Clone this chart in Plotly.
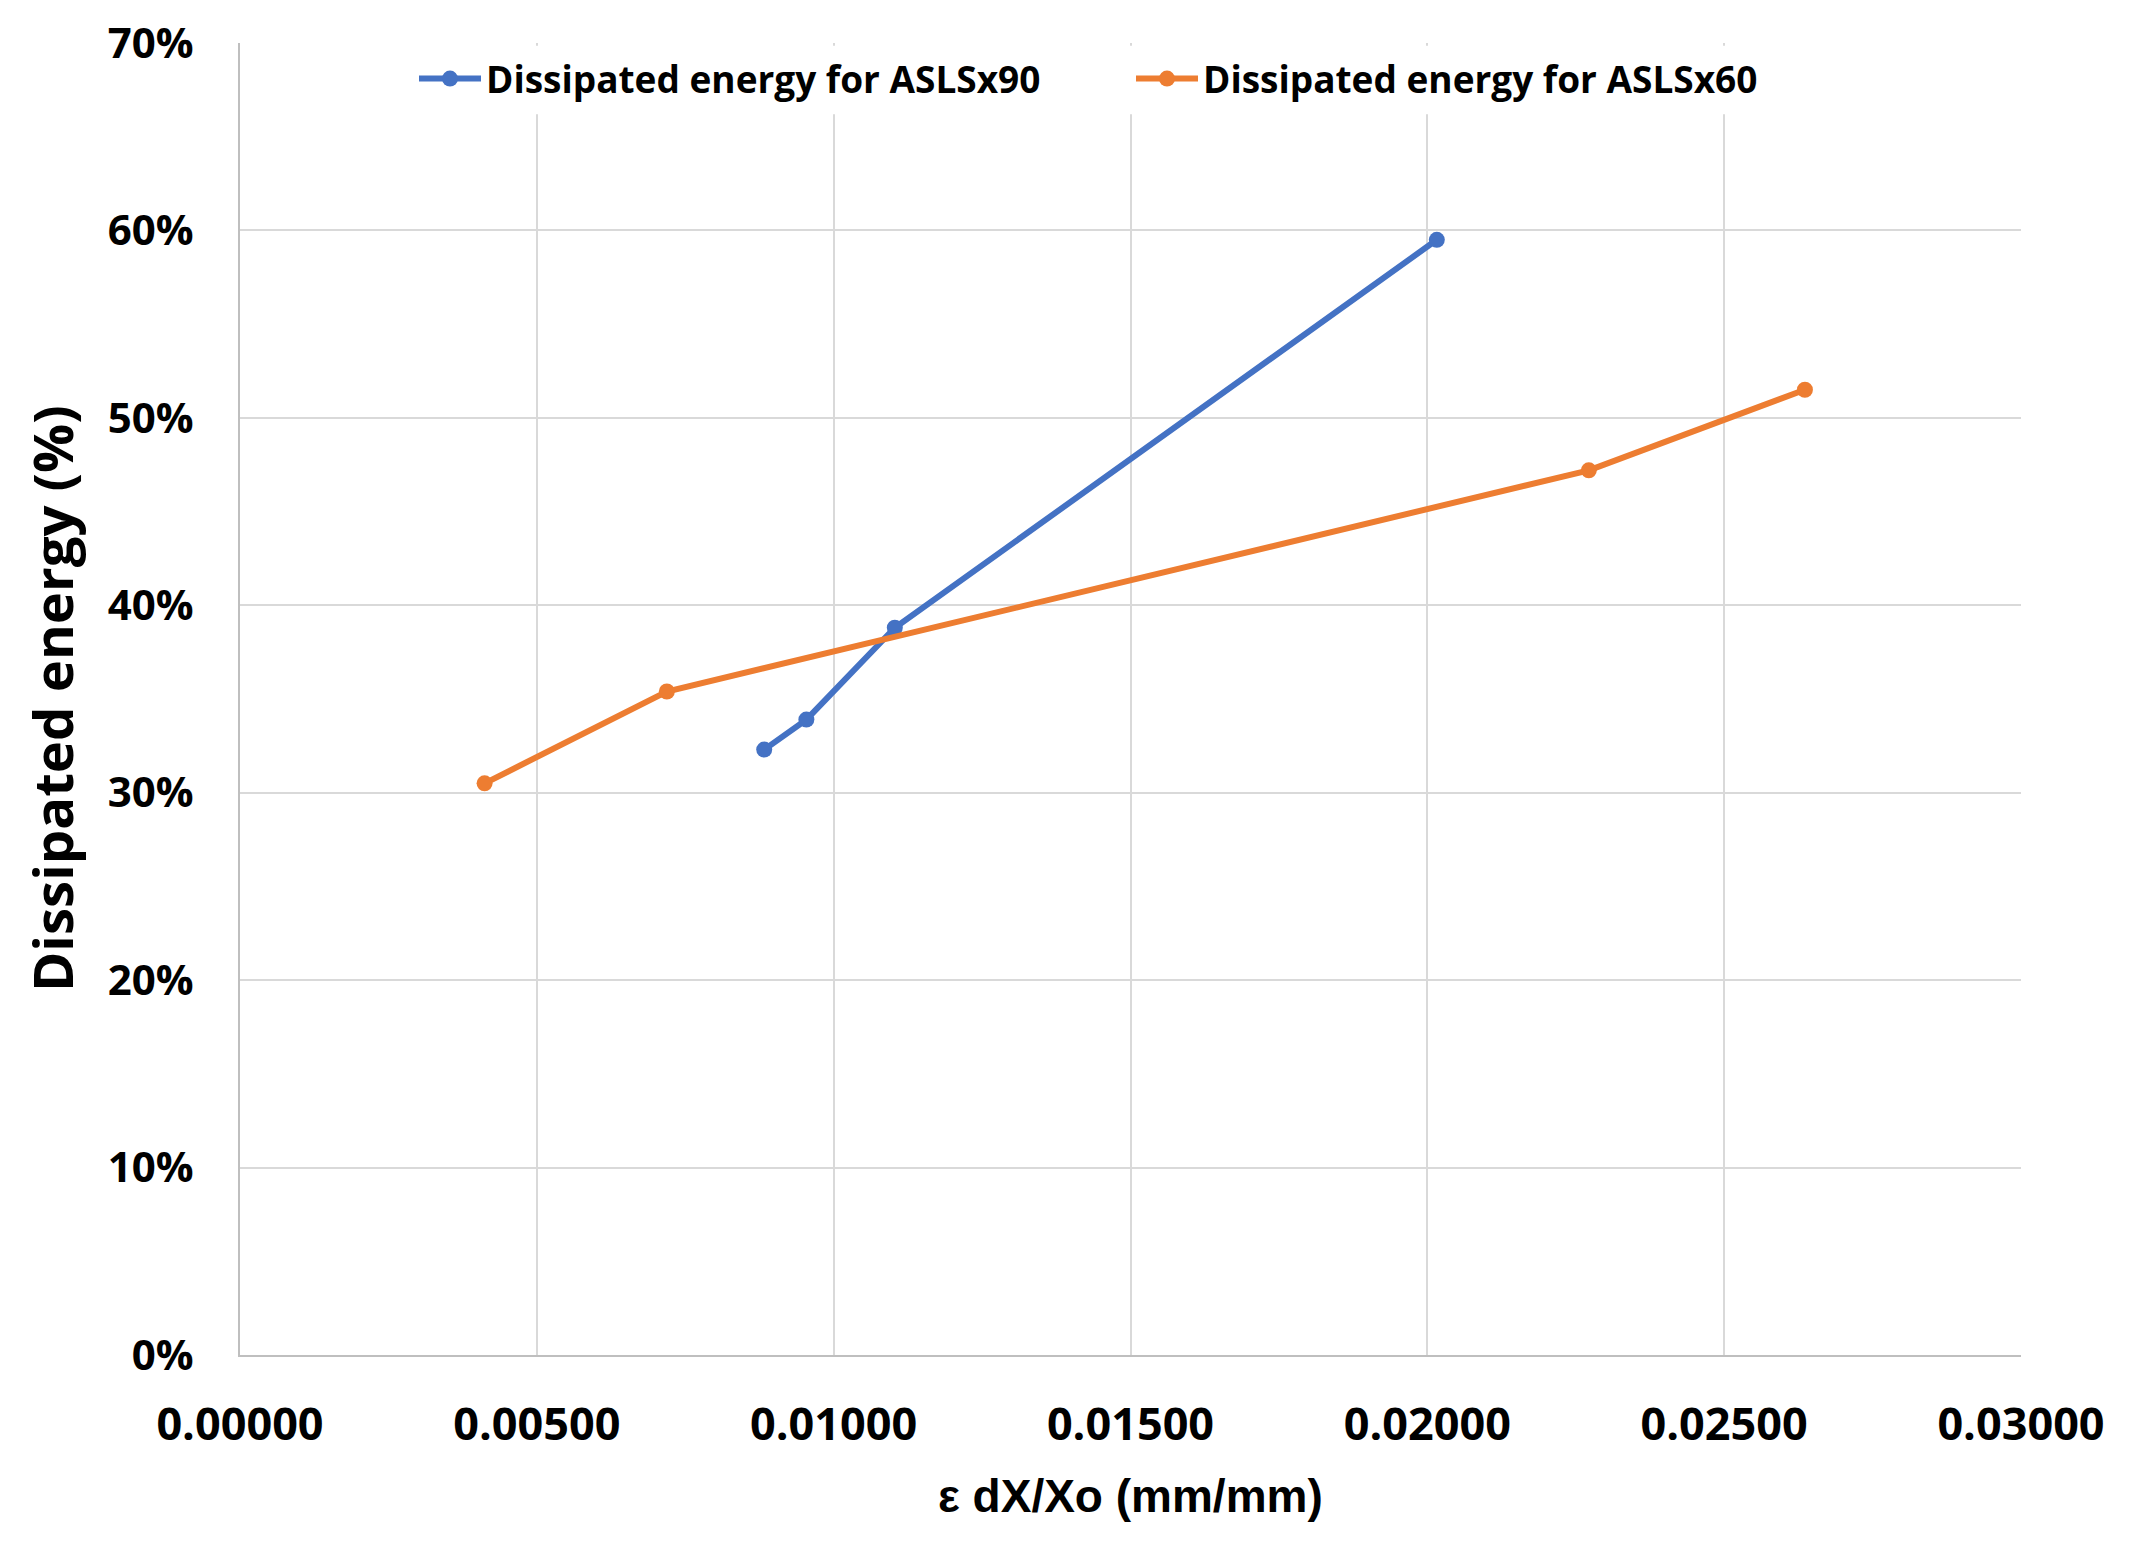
import plotly.graph_objects as go

# Data
x_asls90 = [0.00883, 0.00954, 0.01103, 0.02016]
y_asls90 = [32.3, 33.9, 38.8, 59.5]
x_asls60 = [0.00412, 0.00719, 0.02272, 0.02636]
y_asls60 = [30.5, 35.4, 47.2, 51.5]

name90 = "Dissipated energy for ASLSx90"
name60 = "Dissipated energy for ASLSx60"
x_title = "ε dX/Xo (mm/mm)"
y_title = "Dissipated energy (%)"

BLUE = "#4472C4"
ORANGE = "#ED7D31"
GRID = "#d9d9d9"

# page body has an 8px margin
W, H = 2121, 1534
PL, PR, PT, PB = 240, 2021, 43, 1355   # plot area in screenshot pixels
L, T = PL - 8, PT - 8
R, B = 8 + W - PR, 8 + H - PB
PW, PH = PR - PL, PB - PT

fig = go.Figure()
fig.add_trace(go.Scatter(x=x_asls90, y=y_asls90, mode="lines+markers", name=name90,
                         line=dict(color=BLUE, width=6),
                         marker=dict(color=BLUE, size=16, symbol="circle")))
fig.add_trace(go.Scatter(x=x_asls60, y=y_asls60, mode="lines+markers", name=name60,
                         line=dict(color=ORANGE, width=6),
                         marker=dict(color=ORANGE, size=16, symbol="circle")))

# white backdrop behind legend hiding the gridlines
fig.add_shape(type="rect", xref="x", yref="y", x0=0.00012, x1=0.02988, y0=66.2, y1=69.85,
              fillcolor="white", line=dict(width=0), layer="between")

fig.update_layout(
    width=W, height=H,
    margin=dict(l=L, r=R, t=T, b=B, pad=0, autoexpand=False),
    paper_bgcolor="white", plot_bgcolor="white",
    font=dict(family="Open Sans", color="black"),
    showlegend=True,
    legend=dict(orientation="h", x=(414 - PL) / PW, y=(PB - 79) / PH, xanchor="left", yanchor="middle",
                bgcolor="rgba(0,0,0,0)", font=dict(family="Open Sans", size=37, weight="bold"),
                entrywidth=640, entrywidthmode="pixels", itemwidth=62, traceorder="normal"),
    xaxis=dict(range=[0, 0.03], dtick=0.005, tick0=0, tickformat=".5f",
               showgrid=True, gridcolor=GRID, gridwidth=2, automargin=False,
               showline=True, linecolor="#bfbfbf", linewidth=2,
               zeroline=False, ticks="", ticklabelstandoff=29, ticklabeloverflow="allow",
               tickfont=dict(family="Open Sans", size=45, weight="bold")),
    yaxis=dict(range=[0, 70], dtick=10, tick0=0, ticksuffix="%",
               showgrid=True, gridcolor=GRID, gridwidth=2, automargin=False,
               showline=True, linecolor="#bfbfbf", linewidth=2,
               zeroline=False, ticks="", ticklabelstandoff=36, ticklabeloverflow="allow",
               tickfont=dict(family="Open Sans", size=42, weight="bold")),
    annotations=[
        dict(text=x_title, xref="paper", yref="paper", x=0.5, y=-(1496 - PB) / PH,
             xanchor="center", yanchor="middle", showarrow=False,
             font=dict(family="Liberation Sans", size=46, weight="bold", color="black")),
        dict(text=y_title, xref="paper", yref="paper", x=-(PL - 52) / PW, y=0.5,
             xanchor="center", yanchor="middle", showarrow=False, textangle=-90,
             font=dict(family="Open Sans", size=54.5, weight="bold", color="black")),
    ],
)

fig.write_html("out.html")
